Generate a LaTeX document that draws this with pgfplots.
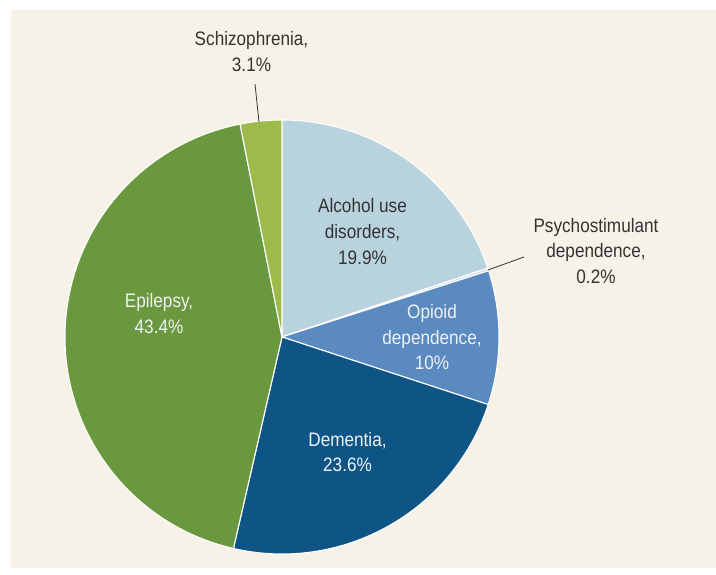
\documentclass[border=0pt]{standalone}
\usepackage{pgfplots}
\usepackage{pgfplotstable}
\pgfplotsset{compat=1.18}
\usepackage{fontspec}
\setmainfont{Liberation Sans}[FakeStretch=0.88]
\definecolor{bg}{HTML}{F6F2E7}
\definecolor{alc}{HTML}{B9D3DE}
\definecolor{psy}{HTML}{CFE0E8}
\definecolor{opi}{HTML}{5B8AC1}
\definecolor{dem}{HTML}{0E5485}
\definecolor{epi}{HTML}{6A983E}
\definecolor{sch}{HTML}{9CBB4B}
\definecolor{txt}{HTML}{333333}
\definecolor{wtxt}{HTML}{EEF2F4}
\pgfplotstableread{
value col
19.9 alc
0.2 psy
10 opi
23.6 dem
43.4 epi
3.1 sch
}\pietable
\begin{document}
\begin{tikzpicture}
\begin{axis}[hide axis, scale only axis, width=716pt, height=568pt,
  xmin=0, xmax=716, ymin=0, ymax=568, enlargelimits=false, clip=false]
\fill[white] (axis cs:0,0) rectangle (axis cs:716,568);
\fill[bg] (axis cs:11,0) rectangle (axis cs:716,558);
\pgfplotsextra{
  \xdef\angA{90}
  \foreach \i in {0,...,5}{
    \pgfplotstablegetelem{\i}{value}\of\pietable
    \let\val\pgfplotsretval
    \pgfplotstablegetelem{\i}{col}\of\pietable
    \let\col\pgfplotsretval
    \pgfmathsetmacro\angB{\angA-\val*360/100.2}
    \fill[fill=\col, draw=white, line width=1.1pt, line join=round]
      (axis cs:282,231) -- ++(\angA:217pt) arc[start angle=\angA, end angle=\angB, radius=217pt] -- cycle;
    \xdef\angA{\angB}
  }
}
\draw[txt, line width=0.8pt] (axis cs:255,484) -- (axis cs:259,446);
\draw[txt, line width=0.8pt] (axis cs:524,311) -- (axis cs:488,298);
\tikzset{lab/.style={anchor=base, inner sep=0pt, font=\fontsize{19.5}{25}\selectfont}}
\node[lab, txt] at (axis cs:251.5,522) {Schizophrenia,};
\node[lab, txt] at (axis cs:251.5,496) {3.1\%};
\node[lab, txt] at (axis cs:362.5,355) {Alcohol use};
\node[lab, txt] at (axis cs:362.5,329) {disorders,};
\node[lab, txt] at (axis cs:362.5,303) {19.9\%};
\node[lab, txt] at (axis cs:596,335) {Psychostimulant};
\node[lab, txt] at (axis cs:596,310) {dependence,};
\node[lab, txt] at (axis cs:596,284) {0.2\%};
\node[lab, wtxt] at (axis cs:432,249) {Opioid};
\node[lab, wtxt] at (axis cs:432,223) {dependence,};
\node[lab, wtxt] at (axis cs:432,198) {10\%};
\node[lab, wtxt] at (axis cs:159,260) {Epilepsy,};
\node[lab, wtxt] at (axis cs:159,234) {43.4\%};
\node[lab, wtxt] at (axis cs:347.5,121) {Dementia,};
\node[lab, wtxt] at (axis cs:347.5,96) {23.6\%};
\end{axis}
\end{tikzpicture}
\end{document}
